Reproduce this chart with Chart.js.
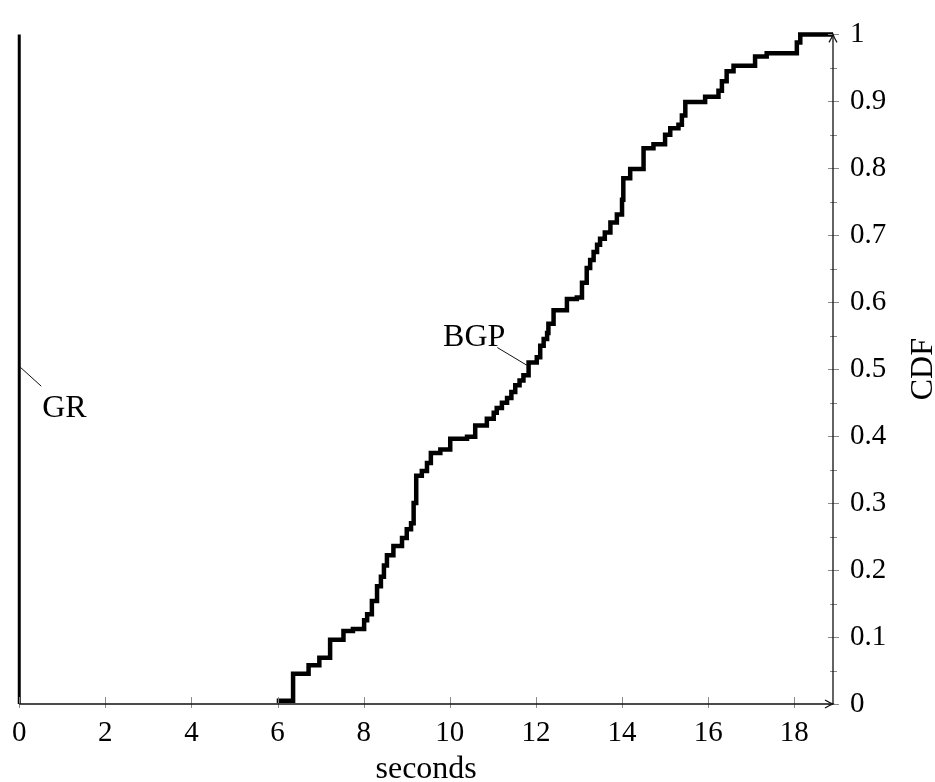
<!DOCTYPE html>
<html>
<head>
<meta charset="utf-8">
<script src="https://cdn.jsdelivr.net/npm/chart.js@4/dist/chart.umd.min.js"></script>
<style>
  html, body { margin: 0; padding: 0; background: #fff; }
  #wrap { width: 935px; height: 782px; position: relative; }
</style>
</head>
<body>
<div id="wrap"><canvas id="cdf-chart"></canvas></div>
<script>
// BGP convergence CDF (step points)
const bgpX = [5.98, 6.36, 6.72, 6.97, 7.22, 7.53, 7.75, 8.01, 8.08, 8.19, 8.31, 8.40, 8.47, 8.54, 8.69, 8.89, 9.00, 9.10, 9.16, 9.22,
  9.35, 9.47, 9.56, 9.78, 10.01, 10.40, 10.59, 10.86, 11.02, 11.09, 11.21, 11.33, 11.43, 11.52, 11.62, 11.71, 11.83, 12.02, 12.10, 12.18,
  12.26, 12.29, 12.41, 12.72, 12.95, 13.07, 13.18, 13.26, 13.34, 13.42, 13.49, 13.60, 13.73, 13.88, 14.00, 14.03, 14.19, 14.50, 14.73, 15.00,
  15.12, 15.31, 15.39, 15.47, 15.93, 16.24, 16.32, 16.43, 16.59, 17.09, 17.36, 18.06, 18.14, 18.9];
const bgpY = [0.005, 0.045, 0.058, 0.069, 0.096, 0.109, 0.112, 0.125, 0.134, 0.154, 0.176, 0.190, 0.207, 0.222, 0.236, 0.248, 0.261, 0.270, 0.300, 0.341,
  0.348, 0.360, 0.375, 0.380, 0.396, 0.399, 0.416, 0.426, 0.435, 0.442, 0.450, 0.457, 0.466, 0.476, 0.483, 0.491, 0.510, 0.518, 0.535, 0.545,
  0.554, 0.568, 0.588, 0.605, 0.607, 0.629, 0.651, 0.663, 0.675, 0.686, 0.695, 0.704, 0.719, 0.731, 0.753, 0.785, 0.799, 0.830, 0.836, 0.850,
  0.860, 0.865, 0.879, 0.899, 0.907, 0.916, 0.930, 0.945, 0.953, 0.967, 0.972, 0.988, 1.0, 1.0];

// GR: everything converges at t = 0
const grX = [0, 0];
const grY = [0, 1];

// axes
const xMin = 0, xMax = 18.9, xStep = 2;
const yMin = 0, yMax = 1, yStep = 0.1;
const xTitle = 'seconds';
const yTitle = 'CDF';

// curve labels with pins
const labelText = ['GR', 'BGP'];
const labelAtX = [0, 11.8];
const labelAtY = [0.5, 0.5055];

const toPoints = (xs, ys) => xs.map((x, i) => ({ x: x, y: ys[i] }));

// axis lines with arrows, tick marks and annotations drawn by hand
const axisDecor = {
    id: 'axisDecor',
    afterDraw(chart) {
        const ctx = chart.ctx;
        const xs = chart.scales.x, ys = chart.scales.y;
        const x0 = xs.getPixelForValue(xMin), x1 = xs.getPixelForValue(xMax);
        const y0 = ys.getPixelForValue(yMin), y1 = ys.getPixelForValue(yMax);
        ctx.save();

        // ticks
        ctx.strokeStyle = '#8a8a8a';
        ctx.lineWidth = 1;
        ctx.beginPath();
        for (let v = xMin; v <= xMax; v += xStep) {
            const px = Math.round(xs.getPixelForValue(v)) + 0.5;
            ctx.moveTo(px, y0 - 7);
            ctx.lineTo(px, y0 + 4);
        }
        for (let i = 0; i <= 20; i++) {
            const py = Math.round(ys.getPixelForValue(i * 0.05)) + 0.5;
            if (i % 2 === 0) { ctx.moveTo(x1 - 5, py); ctx.lineTo(x1 + 6, py); }
            else { ctx.moveTo(x1 - 3, py); ctx.lineTo(x1 + 4, py); }
        }
        ctx.stroke();

        // axis lines
        ctx.strokeStyle = '#111';
        ctx.lineWidth = 1.3;
        ctx.beginPath();
        ctx.moveTo(x0, y0); ctx.lineTo(x1, y0);
        ctx.moveTo(x1, y0); ctx.lineTo(x1, y1);
        ctx.stroke();
        // arrow heads
        ctx.beginPath();
        ctx.moveTo(x1 - 8, y0 - 4); ctx.quadraticCurveTo(x1 - 3, y0 - 1, x1, y0); ctx.quadraticCurveTo(x1 - 3, y0 + 1, x1 - 8, y0 + 4);
        ctx.moveTo(x1 - 4, y1 + 8); ctx.quadraticCurveTo(x1 - 1, y1 + 3, x1, y1); ctx.quadraticCurveTo(x1 + 1, y1 + 3, x1 + 4, y1 + 8);
        ctx.stroke();

        // y title, reads bottom to top
        ctx.fillStyle = '#000';
        ctx.font = '32px "Liberation Serif", serif';
        ctx.textAlign = 'center';
        ctx.textBaseline = 'alphabetic';
        ctx.save();
        ctx.translate(chart.width - 3, (y0 + y1) / 2);
        ctx.rotate(-Math.PI / 2);
        ctx.fillText(yTitle, 0, 0);
        ctx.restore();

        // pinned labels
        ctx.lineWidth = 1;
        labelText.forEach((t, i) => {
            const ax = xs.getPixelForValue(labelAtX[i]);
            const ay = ys.getPixelForValue(labelAtY[i]);
            ctx.beginPath();
            if (i === 0) {
                ctx.moveTo(ax + 1, ay - 2); ctx.lineTo(ax + 22, ay + 17);
                ctx.stroke();
                ctx.textAlign = 'left';
                ctx.fillText(t, ax + 23, ay + 48);
            } else {
                ctx.moveTo(ax, ay); ctx.lineTo(ax - 30, ay - 18);
                ctx.stroke();
                ctx.textAlign = 'right';
                ctx.fillText(t, ax - 22, ay - 20);
            }
        });
        ctx.restore();
    }
};

const ctx = document.getElementById('cdf-chart').getContext('2d');
window.cdfChart = new Chart(ctx, {
    type: 'scatter',
    data: {
        datasets: [
            {
                label: 'BGP',
                data: toPoints(bgpX, bgpY),
                showLine: true,
                stepped: true,
                borderColor: '#000',
                borderWidth: 4.5,
                borderJoinStyle: 'miter',
                pointRadius: 0,
                clip: false,
            },
            {
                label: 'GR',
                data: toPoints(grX, grY),
                showLine: true,
                borderColor: '#000',
                borderWidth: 3,
                pointRadius: 0,
                clip: false,
            },
        ],
    },
    options: {
        responsive: true,
        maintainAspectRatio: false,
        animation: false,
        layout: { padding: { left: 19, top: 17, right: 0, bottom: 0 } },
        plugins: {
            legend: { display: false },
            tooltip: { enabled: false },
        },
        scales: {
            x: {
                type: 'linear',
                position: 'bottom',
                min: xMin,
                max: xMax,
                grid: { display: false, drawTicks: false },
                border: { display: false },
                ticks: {
                    stepSize: xStep,
                    includeBounds: false,
                    maxRotation: 0,
                    padding: 12,
                    color: '#000',
                    font: { family: '"Liberation Serif", serif', size: 29 },
                },
                title: {
                    display: true,
                    text: xTitle,
                    color: '#000',
                    padding: 0,
                    font: { family: '"Liberation Serif", serif', size: 32, lineHeight: 0.8 },
                },
                afterFit: (scale) => { scale.height = 78; },
            },
            y: {
                type: 'linear',
                position: 'right',
                min: yMin,
                max: yMax,
                grid: { display: false, drawTicks: false },
                border: { display: false },
                ticks: {
                    stepSize: yStep,
                    includeBounds: false,
                    padding: 17,
                    color: '#000',
                    font: { family: '"Liberation Serif", serif', size: 29 },
                    callback: (v) => String(+v.toFixed(1)),
                },
                afterFit: (scale) => { scale.width = 102; },
            },
        },
    },
    plugins: [axisDecor],
});
</script>
</body>
</html>
